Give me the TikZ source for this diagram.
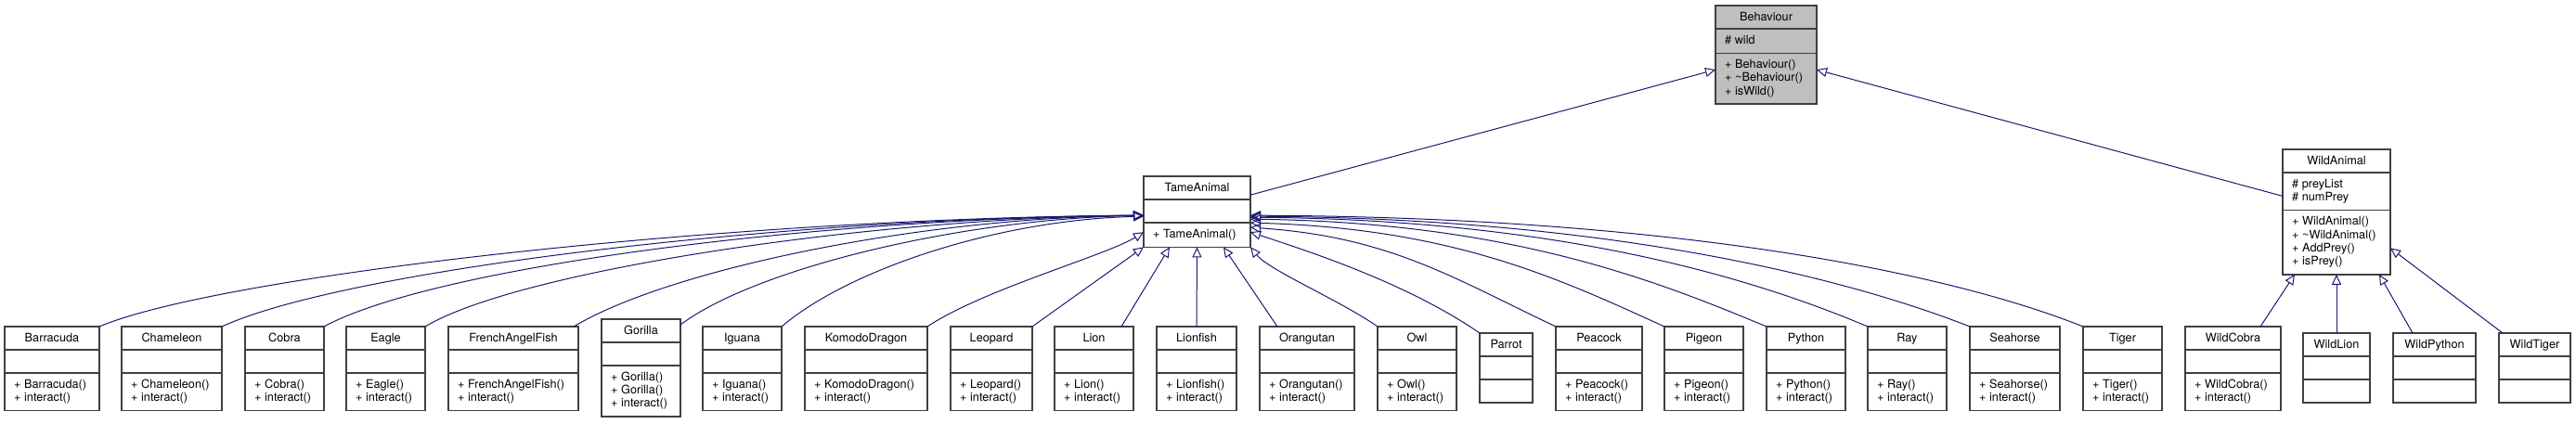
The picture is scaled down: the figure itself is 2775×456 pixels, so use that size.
\documentclass[tikz,border=0pt]{standalone}
\usepackage{fontspec}
\setmainfont{TeX Gyre Heros}
\usetikzlibrary{arrows.meta}
\definecolor{edgeblue}{HTML}{191970}
\definecolor{boxline}{HTML}{404040}
\definecolor{basefill}{HTML}{BFBFBF}
\tikzset{
  clsbox/.style={draw=boxline, line width=1.5pt, inner sep=0pt, outer sep=0pt, anchor=north west},
  clssep/.style={draw=boxline, line width=1.5pt},
  clstitle/.style={anchor=base, inner sep=0pt, font=\fontsize{12.7}{14.3}\selectfont},
  clsmember/.style={anchor=base west, inner sep=0pt, font=\fontsize{12.7}{14.3}\selectfont},
  inh/.style={draw=edgeblue, line width=1pt, -{Triangle[open, length=11pt, width=10pt]}},
}
\newcommand\clsfill{white}
\newcommand\cls[8]{%
  \pgfmathsetmacro\clsya{#4+25}%
  \pgfmathsetmacro\clsyb{\clsya+max(25,14.3*#5+12)}%
  \pgfmathsetmacro\clsyc{\clsyb+max(25,14.3*#7+12)}%
  \pgfmathsetmacro\clsw{#3-#2}%
  \pgfmathsetmacro\clsh{\clsyc-#4}%
  \node[clsbox, fill=\clsfill, minimum width=\clsw pt, minimum height=\clsh pt] (#1) at (#2,#4) {};
  \draw[clssep] (#2,\clsya) -- (#3,\clsya) (#2,\clsyb) -- (#3,\clsyb);
  \node[clstitle] (#1-t) at ({(#2+#3)/2},#4+16) {#1};
  \foreach \m [count=\i] in {#6} {\node[clsmember] (#1-a\i) at (#2+10,\clsya+16.3+14.3*\i-14.3) {\m};}
  \foreach \m [count=\i] in {#8} {\node[clsmember] (#1-m\i) at (#2+10,\clsyb+16.3+14.3*\i-14.3) {\m};}
}
\begin{document}
\begin{tikzpicture}[x=1pt,y=-1pt]
\useasboundingbox (0,0) rectangle (2775,456);
\renewcommand\clsfill{basefill}
\cls{Behaviour}{1848}{1957}{6}{1}{\# wild}{3}{+ Behaviour(),+ \textasciitilde Behaviour(),+ isWild()}
\renewcommand\clsfill{white}
\cls{TameAnimal}{1232}{1347}{190}{0}{}{1}{+ TameAnimal()}
\cls{WildAnimal}{2459}{2575}{161}{2}{\# preyList,\# numPrey}{4}{+ WildAnimal(),+ \textasciitilde WildAnimal(),+ AddPrey(),+ isPrey()}
\cls{Barracuda}{5}{107}{352}{0}{}{2}{+ Barracuda(),+ interact()}
\cls{Chameleon}{131}{239}{352}{0}{}{2}{+ Chameleon(),+ interact()}
\cls{Cobra}{264}{349}{352}{0}{}{2}{+ Cobra(),+ interact()}
\cls{Eagle}{373}{458}{352}{0}{}{2}{+ Eagle(),+ interact()}
\cls{FrenchAngelFish}{483}{623}{352}{0}{}{2}{+ FrenchAngelFish(),+ interact()}
\cls{Gorilla}{648}{733}{344}{0}{}{3}{+ Gorilla(),+ Gorilla(),+ interact()}
\cls{Iguana}{757}{842}{352}{0}{}{2}{+ Iguana(),+ interact()}
\cls{KomodoDragon}{867}{999}{352}{0}{}{2}{+ KomodoDragon(),+ interact()}
\cls{Leopard}{1024}{1112}{352}{0}{}{2}{+ Leopard(),+ interact()}
\cls{Lion}{1136}{1221}{352}{0}{}{2}{+ Lion(),+ interact()}
\cls{Lionfish}{1246}{1332}{352}{0}{}{2}{+ Lionfish(),+ interact()}
\cls{Orangutan}{1357}{1459}{352}{0}{}{2}{+ Orangutan(),+ interact()}
\cls{Owl}{1484}{1569}{352}{0}{}{2}{+ Owl(),+ interact()}
\cls{Parrot}{1594}{1651}{359}{0}{}{0}{}
\cls{Peacock}{1676}{1769}{352}{0}{}{2}{+ Peacock(),+ interact()}
\cls{Pigeon}{1793}{1878}{352}{0}{}{2}{+ Pigeon(),+ interact()}
\cls{Python}{1903}{1988}{352}{0}{}{2}{+ Python(),+ interact()}
\cls{Ray}{2012}{2097}{352}{0}{}{2}{+ Ray(),+ interact()}
\cls{Seahorse}{2122}{2219}{352}{0}{}{2}{+ Seahorse(),+ interact()}
\cls{Tiger}{2244}{2329}{352}{0}{}{2}{+ Tiger(),+ interact()}
\cls{WildCobra}{2354}{2457}{352}{0}{}{2}{+ WildCobra(),+ interact()}
\cls{WildLion}{2481}{2553}{359}{0}{}{0}{}
\cls{WildPython}{2578}{2667}{359}{0}{}{0}{}
\cls{WildTiger}{2692}{2769}{359}{0}{}{0}{}
% edges to Behaviour
\draw[inh] ([yshift=18pt]TameAnimal.east) -- ([yshift=-16pt]Behaviour.west);
\draw[inh] ([yshift=17pt]WildAnimal.west) -- ([yshift=-16pt]Behaviour.east);
% left bundle to TameAnimal
\draw[inh] (Barracuda.north east) .. controls +(130,-55) and +(-450,3) .. ([yshift=-4pt]TameAnimal.west);
\draw[inh] (Chameleon.north east) .. controls +(130,-60) and +(-400,3) .. ([yshift=-4pt]TameAnimal.west);
\draw[inh] (Cobra.north east) .. controls +(120,-65) and +(-350,3) .. ([yshift=-4pt]TameAnimal.west);
\draw[inh] (Eagle.north east) .. controls +(100,-60) and +(-300,3) .. ([yshift=-4pt]TameAnimal.west);
\draw[inh] ([xshift=-5pt]FrenchAngelFish.north east) .. controls +(100,-60) and +(-250,3) .. ([yshift=-4pt]TameAnimal.west);
\draw[inh] ([yshift=-6pt]Gorilla.north east) .. controls +(80,-60) and +(-200,4) .. ([yshift=-4pt]TameAnimal.west);
\draw[inh] (Iguana.north east) .. controls +(70,-60) and +(-160,4) .. ([yshift=-5pt]TameAnimal.west);
\draw[inh] (KomodoDragon.north east) .. controls +(60,-40) and +(-40,25) .. ([yshift=-22pt]TameAnimal.west);
\draw[inh] (Leopard.north east) -- (TameAnimal.south west);
\draw[inh] ([xshift=-13pt]Lion.north east) -- ([xshift=28pt]TameAnimal.south west);
\draw[inh] (Lionfish.north) -- (TameAnimal.south);
\draw[inh] ([xshift=19pt]Orangutan.north west) -- ([xshift=-29pt]TameAnimal.south east);
\draw[inh] (Owl.north west) .. controls +(-40,-28) and +(20,25) .. (TameAnimal.south east);
% right bundle to TameAnimal
\draw[inh] (Parrot.north west) .. controls +(-80,-55) and +(60,20) .. ([yshift=-22pt]TameAnimal.east);
\draw[inh] (Peacock.north west) .. controls +(-110,-52) and +(150,10) .. ([yshift=-17pt]TameAnimal.east);
\draw[inh] (Pigeon.north west) .. controls +(-110,-50) and +(220,6) .. ([yshift=-12pt]TameAnimal.east);
\draw[inh] (Python.north west) .. controls +(-120,-50) and +(280,4) .. ([yshift=-8pt]TameAnimal.east);
\draw[inh] (Ray.north west) .. controls +(-130,-55) and +(330,3) .. ([yshift=-6pt]TameAnimal.east);
\draw[inh] (Seahorse.north west) .. controls +(-140,-55) and +(380,2) .. ([yshift=-5pt]TameAnimal.east);
\draw[inh] (Tiger.north west) .. controls +(-150,-60) and +(450,2) .. ([yshift=-4pt]TameAnimal.east);
% WildAnimal children
\draw[inh] ([xshift=-22pt]WildCobra.north east) -- ([xshift=13pt]WildAnimal.south west);
\draw[inh] (WildLion.north) -- (WildAnimal.south);
\draw[inh] ([xshift=21pt]WildPython.north west) -- ([xshift=-12pt]WildAnimal.south east);
\draw[inh] ([xshift=4pt]WildTiger.north west) -- ([yshift=-39pt]WildAnimal.east);
\end{tikzpicture}
\end{document}
